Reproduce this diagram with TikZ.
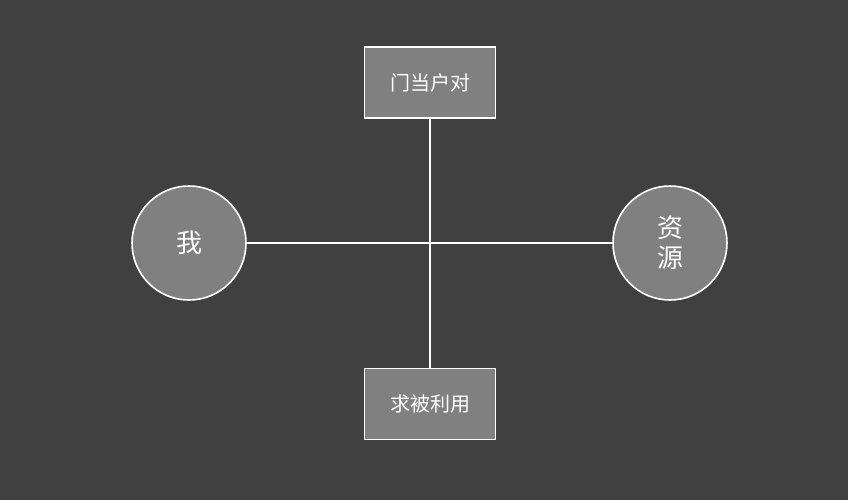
\documentclass[tikz,border=0pt]{standalone}
\usepackage{fontspec}
\newfontfamily\cjk{Noto Sans CJK SC}
\definecolor{bgc}{HTML}{404040}
\definecolor{fillc}{HTML}{808080}
\tikzset{
  pole/.style={circle,draw=white,fill=fillc,line width=1.6pt,minimum size=114pt,inner sep=0pt,text=white,font=\cjk\fontsize{26}{30}\selectfont,align=center},
  side/.style={rectangle,draw=white,fill=fillc,line width=1.6pt,minimum width=131pt,minimum height=71pt,inner sep=0pt,text=white,font=\cjk\fontsize{20}{24}\selectfont},
  link/.style={draw=white,line width=1.6pt}
}
\begin{document}
\begin{tikzpicture}[x=1pt,y=-1pt]
  \fill[bgc] (0,0) rectangle (848,500);
  \useasboundingbox (0,0) rectangle (848,500);
  % Nodes
  \node[pole] (me) at (189,243) {我};
  \node[pole] (res) at (670,243) {资\\源};
  \node[side] (match) at (430,82.5) {门当户对};
  \node[side] (used) at (430,404) {求被利用};
  % Axes
  \draw[link] (me) -- (res);
  \draw[link] (match) -- (used);
\end{tikzpicture}
\end{document}
